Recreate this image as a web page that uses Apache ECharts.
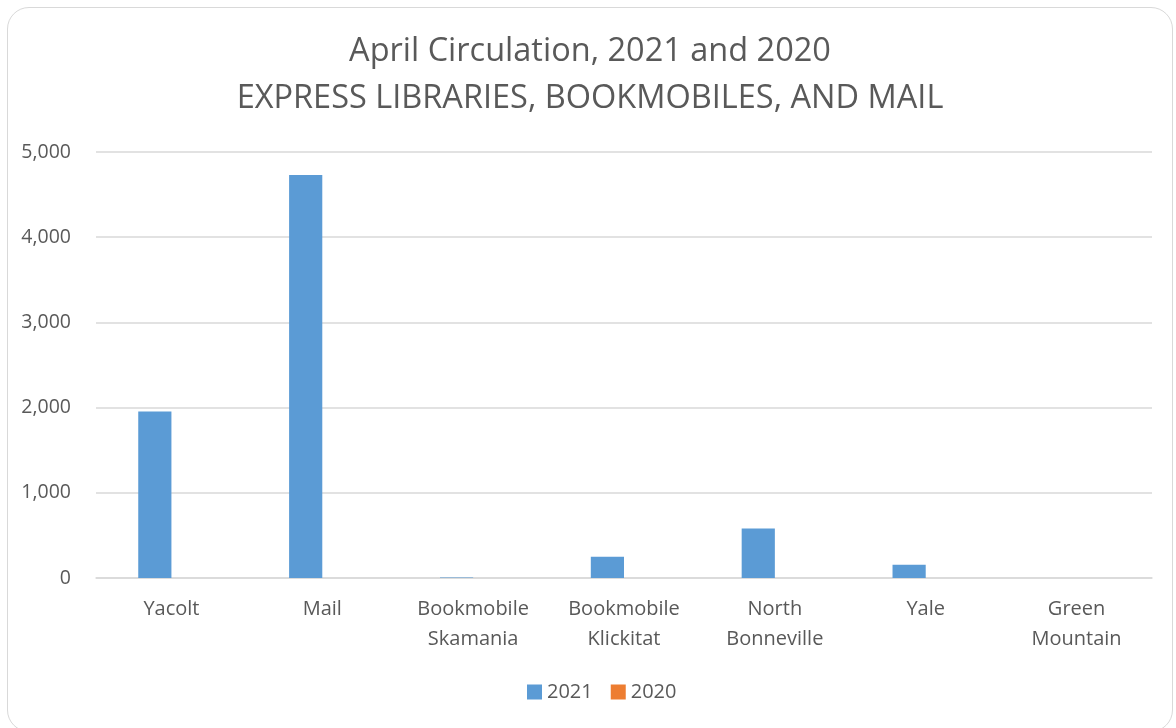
<!DOCTYPE html>
<html><head><meta charset="utf-8">
<script src="https://cdn.jsdelivr.net/npm/echarts@6/dist/echarts.min.js"></script>
<style>
html,body{margin:0;padding:0;background:#fff;overflow:hidden;}
#c{position:absolute;left:7px;top:7px;width:1166px;height:725px;border:1px solid #d9d9d9;border-radius:22px;box-sizing:border-box;}
</style></head><body>
<div id="c"></div>
<script>
const categories = ['Yacolt','Mail','Bookmobile\nSkamania','Bookmobile\nKlickitat','North\nBonneville','Yale','Green\nMountain'];
const values2021 = [1955, 4730, 5, 250, 580, 155, 0];
const values2020 = [0, 0, 0, 0, 0, 0, 0];
const yTicks = {min:0, max:5000, interval:1000};

const chart = echarts.init(document.getElementById('c'));
const font = 'Open Sans';
chart.setOption({
  animation:false,
  title:{text:'April Circulation, 2021 and 2020\nEXPRESS LIBRARIES, BOOKMOBILES, AND MAIL', left:'center', top:15,
    textStyle:{fontFamily:font, fontWeight:'normal', fontSize:32.5, color:'#595959', lineHeight:47}},
  legend:{top:669, left:514, itemWidth:15, itemHeight:15, itemGap:18, icon:'rect',
    textStyle:{fontFamily:font, fontSize:20, color:'#595959'}},
  grid:{left:88, right:20, top:144, bottom:153, containLabel:false},
  xAxis:{type:'category', data:categories, axisTick:{show:false},
    axisLine:{lineStyle:{color:'#d9d9d9', width:1.5}},
    axisLabel:{fontFamily:font, fontSize:20, color:'#595959', lineHeight:30, margin:16}},
  yAxis:{type:'value', min:yTicks.min, max:yTicks.max, interval:yTicks.interval,
    axisLine:{show:false}, axisTick:{show:false},
    splitLine:{lineStyle:{color:'#d9d9d9', width:1.5}},
    axisLabel:{fontFamily:font, fontSize:19.5, color:'#595959', margin:25,
      formatter:v=>v.toLocaleString('en-US')}},
  series:[
    {name:'2021', type:'bar', data:values2021, itemStyle:{color:'#5b9bd5'}, barGap:'0%', barCategoryGap:'56%'},
    {name:'2020', type:'bar', data:values2020, itemStyle:{color:'#ed7d31'}, barGap:'0%', barCategoryGap:'56%'}
  ]
});
</script></body></html>
